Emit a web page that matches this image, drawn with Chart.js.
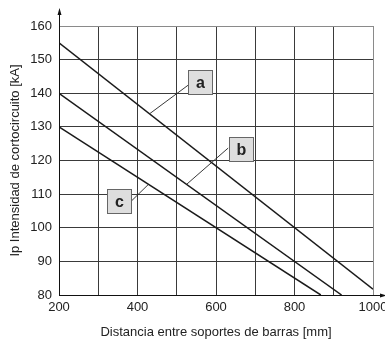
<!DOCTYPE html>
<html><head><meta charset="utf-8">
<script src="https://cdn.jsdelivr.net/npm/chart.js@4"></script>
<style>html,body{margin:0;padding:0;background:#fff}#wrap{width:385px;height:340px}</style>
</head><body><div id="wrap"><canvas id="c" width="385" height="340"></canvas></div>
<script>
// Data
const seriesNames = ['a', 'b', 'c'];
const distA = [200, 1000];
const currentA = [155, 81.7];
const distB = [200, 920];
const currentB = [140, 80];
const distC = [200, 867];
const currentC = [130, 80];
const xTickLabels = [200, 400, 600, 800, 1000];
const yTickLabels = [80, 90, 100, 110, 120, 130, 140, 150, 160];
const xTitle = 'Distancia entre soportes de barras [mm]';
const yTitle = 'Ip Intensidad de cortocircuito [kA]';

// Label callouts: box centre and leader end, in data units
const calloutBox = [[560, 143.4], [663, 123.5], [353, 108.1]];
const calloutFrom = [[529, 142.4], [631, 123.7], [384, 107.9]];
const calloutTo = [[432, 134], [526, 113], [427, 112.8]];

const toPts = (xs, ys) => xs.map((x, i) => ({x, y: ys[i]}));
const lineStyle = {borderColor: '#1a1a1a', borderWidth: 1.5, pointRadius: 0, showLine: true, fill: false, tension: 0};

const FONT = "'Liberation Sans', Arial, sans-serif";

const decor = {
  id: 'decor',
  afterDraw(chart) {
    const ctx = chart.ctx;
    const xs = chart.scales.x, ys = chart.scales.y;
    const a = chart.chartArea;
    ctx.save();
    ctx.strokeStyle = '#111';
    ctx.fillStyle = '#111';
    ctx.lineWidth = 1;
    // y axis with arrow
    const lx = Math.round(a.left) + 0.5;
    ctx.beginPath(); ctx.moveTo(lx, a.bottom); ctx.lineTo(lx, 12); ctx.stroke();
    ctx.beginPath(); ctx.moveTo(lx, 8); ctx.lineTo(lx - 2, 15); ctx.lineTo(lx + 2, 15); ctx.closePath(); ctx.fill();
    // x axis with arrow
    const by = Math.round(a.bottom) + 0.5;
    ctx.beginPath(); ctx.moveTo(a.left, by); ctx.lineTo(383, by); ctx.stroke();
    ctx.beginPath(); ctx.moveTo(387, by); ctx.lineTo(380, by - 2); ctx.lineTo(380, by + 2); ctx.closePath(); ctx.fill();
    // callouts
    seriesNames.forEach((name, i) => {
      const fx = xs.getPixelForValue(calloutFrom[i][0]), fy = ys.getPixelForValue(calloutFrom[i][1]);
      const tx = xs.getPixelForValue(calloutTo[i][0]), ty = ys.getPixelForValue(calloutTo[i][1]);
      ctx.strokeStyle = '#222'; ctx.lineWidth = 0.9;
      ctx.beginPath(); ctx.moveTo(fx, fy); ctx.lineTo(tx, ty); ctx.stroke();
      const cx = xs.getPixelForValue(calloutBox[i][0]), cy = ys.getPixelForValue(calloutBox[i][1]);
      const s = 24;
      const x0 = Math.round(cx - s / 2) + 0.5, y0 = Math.round(cy - s / 2) + 0.5;
      ctx.fillStyle = '#dedede'; ctx.fillRect(x0, y0, s, s);
      ctx.strokeStyle = '#666'; ctx.lineWidth = 1; ctx.strokeRect(x0, y0, s, s);
      ctx.fillStyle = '#222'; ctx.font = 'bold 16px ' + FONT;
      ctx.textAlign = 'center'; ctx.textBaseline = 'middle';
      ctx.fillText(name, x0 + s / 2, y0 + s / 2 + 1);
    });
    ctx.restore();
  }
};

new Chart(document.getElementById('c'), {
  type: 'scatter',
  data: {
    datasets: [
      Object.assign({label: seriesNames[0], data: toPts(distA, currentA)}, lineStyle),
      Object.assign({label: seriesNames[1], data: toPts(distB, currentB)}, lineStyle),
      Object.assign({label: seriesNames[2], data: toPts(distC, currentC)}, lineStyle)
    ]
  },
  options: {
    responsive: false,
    devicePixelRatio: 1,
    animation: false,
    layout: {padding: {top: 26, right: 12, left: 0, bottom: 0}},
    plugins: {legend: {display: false}, tooltip: {enabled: false}},
    scales: {
      x: {
        type: 'linear', min: 200, max: 1000,
        ticks: {
          stepSize: 100, autoSkip: false, maxRotation: 0, padding: 5,
          color: '#222', font: {family: FONT, size: 13},
          callback: v => xTickLabels.includes(v) ? String(v) : ''
        },
        grid: {color: ctx => (ctx.tick && ctx.tick.value === 1000) ? '#8a8a8a' : '#3a3a3a', lineWidth: 1, drawTicks: false},
        border: {display: false},
        title: {display: true, text: xTitle, color: '#222', font: {family: FONT, size: 13}, padding: {top: 0, bottom: 0}},
        afterFit(s) { s.height = 45; s.paddingLeft = 0; s.paddingRight = 0; }
      },
      y: {
        type: 'linear', min: 80, max: 160,
        ticks: {
          stepSize: 10, padding: 7,
          color: '#222', font: {family: FONT, size: 13},
          callback: v => yTickLabels.includes(v) ? String(v) : ''
        },
        grid: {color: ctx => (ctx.tick && ctx.tick.value === 160) ? '#8a8a8a' : '#3a3a3a', lineWidth: 1, drawTicks: false},
        border: {display: false},
        title: {display: true, text: yTitle, color: '#222', font: {family: FONT, size: 13}, padding: {top: 8, bottom: 0}},
        afterFit(s) { s.width = 59; s.paddingTop = 0; s.paddingBottom = 0; }
      }
    }
  },
  plugins: [decor]
});
</script>
</body></html>
